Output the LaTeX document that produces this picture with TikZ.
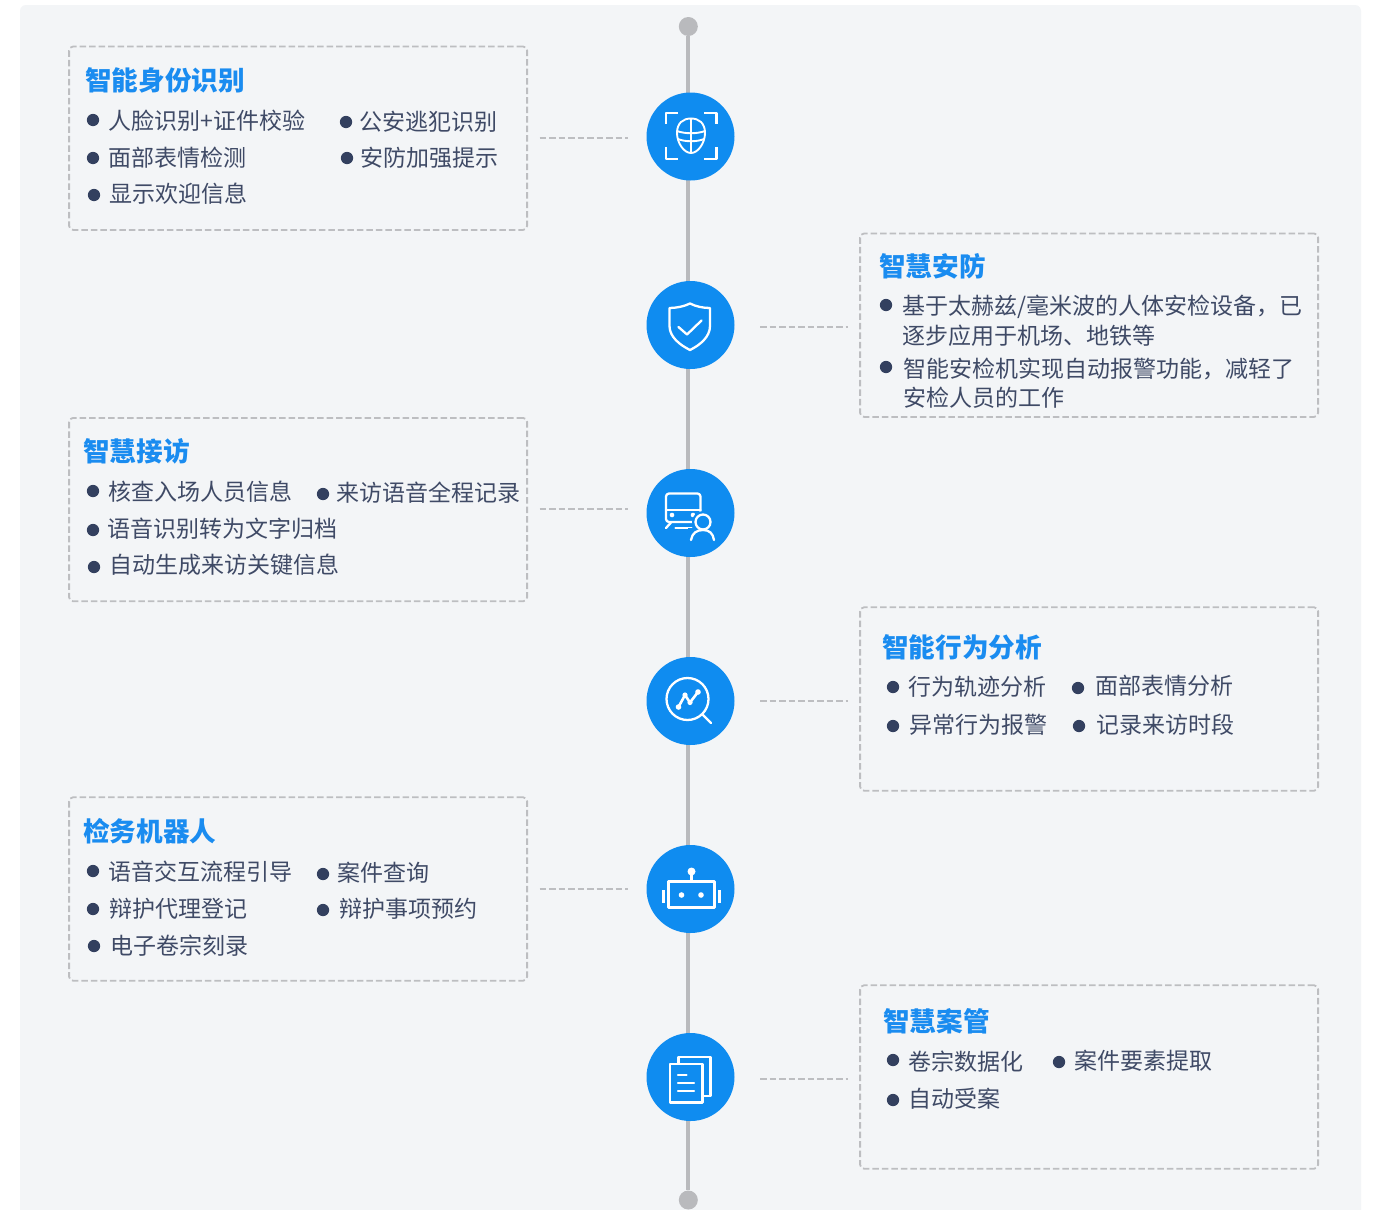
\documentclass[tikz,border=0pt]{standalone}
\usepackage{fontspec}
\setmainfont{Noto Sans CJK SC}
\definecolor{panel}{HTML}{F3F5F7}
\definecolor{blue1}{HTML}{0F8CF0}
\definecolor{titleblue}{HTML}{1A8CF0}
\definecolor{ink}{HTML}{3F4A66}
\definecolor{dotink}{HTML}{33405F}
\definecolor{rail}{HTML}{B9BABD}
\definecolor{dashc}{HTML}{BDBEC1}
\tikzset{
  railline/.style={draw=rail,line width=3.8pt},
  raildot/.style={circle,fill=rail,minimum size=19pt,inner sep=0pt},
  hub/.style={circle,fill=blue1,minimum size=88pt,inner sep=0pt},
  card/.style={draw=dashc,line width=1.8pt,dash pattern=on 6.5pt off 3pt,rounded corners=4pt,
    minimum width=458pt,minimum height=183.4pt,inner sep=0pt,anchor=north west},
  conn/.style={draw=dashc,line width=1.5pt,dash pattern=on 6.5pt off 3pt},
  cardtitle/.style={anchor=west,inner sep=0pt,yshift=-0.5pt,text=titleblue,font=\fontsize{26.6}{30}\selectfont\bfseries},
  itemtext/.style={anchor=west,inner sep=0pt,xshift=0.2pt,yshift=-0.8pt,text=ink,font=\fontsize{23}{28}\selectfont},
  bulletdot/.style={circle,fill=dotink,minimum size=12.3pt,inner sep=0pt},
  glyph/.style={draw=white,line width=2.3pt,line cap=round,line join=round},
  glyphthin/.style={draw=white,line width=1.9pt,line cap=round,line join=round}
}
\newcommand{\bitem}[6]{%
  \node[bulletdot] (#1d) at (#2,#3) {};
  \node[itemtext] (#1) at (#4,#5) {#6};}
\begin{document}
\begin{tikzpicture}[x=1pt,y=-1pt]
\useasboundingbox (0,0) rectangle (1376,1210);
\fill[white] (0,0) rectangle (1376,1210);
\fill[panel,rounded corners=6pt] (20,5) -- (1361,5) -- (1361,1216) -- (20,1216) -- cycle;
\begin{scope}
\clip (0,0) rectangle (1376,1210);
\node[raildot] (top) at (688.3,26.5) {};
\node[raildot] (bot) at (688.3,1200) {};
\draw[railline] (top) -- (bot);
\end{scope}
% hubs
\node[hub] (c1) at (690.5,136.5) {};
\node[hub] (c2) at (690.5,325) {};
\node[hub] (c3) at (690.5,513) {};
\node[hub] (c4) at (690.5,701) {};
\node[hub] (c5) at (690.5,889) {};
\node[hub] (c6) at (690.5,1077) {};
% cards
\node[card] (b1) at (68.2,45.6) {};
\node[card] (b2) at (859.2,232.6) {};
\node[card] (b3) at (68.2,417) {};
\node[card] (b4) at (859.2,606.4) {};
\node[card] (b5) at (68.2,796.4) {};
\node[card] (b6) at (859.2,984.4) {};
% connectors
\coordinate (y1) at (0,138);
\coordinate (y2) at (0,327);
\coordinate (y3) at (0,509);
\coordinate (y4) at (0,701);
\coordinate (y5) at (0,889);
\coordinate (y6) at (0,1079);
\draw[conn,shorten <=11.5pt,shorten >=18.5pt] (b1.east |- y1) -- (c1.west |- y1);
\draw[conn,shorten <=25.5pt,shorten >=11.5pt] (c2.east |- y2) -- (b2.west |- y2);
\draw[conn,shorten <=11.5pt,shorten >=18.5pt] (b3.east |- y3) -- (c3.west |- y3);
\draw[conn,shorten <=25.5pt,shorten >=11.5pt] (c4.east |- y4) -- (b4.west |- y4);
\draw[conn,shorten <=11.5pt,shorten >=18.5pt] (b5.east |- y5) -- (c5.west |- y5);
\draw[conn,shorten <=25.5pt,shorten >=11.5pt] (c6.east |- y6) -- (b6.west |- y6);
% card 1
\node[cardtitle] (t1) at (85,80) {智能身份识别};
\bitem{a1}{93}{120}{108}{120}{人脸识别+证件校验}
\bitem{a2}{346}{122}{359}{121}{公安逃犯识别}
\bitem{a3}{93}{158}{108}{157}{面部表情检测}
\bitem{a4}{347}{158}{360}{157}{安防加强提示}
\bitem{a5}{94}{195}{109}{193}{显示欢迎信息}
% card 2
\node[cardtitle] (t2) at (879,266) {智慧安防};
\bitem{e1}{886}{305}{902}{306}{基于太赫兹/毫米波的人体安检设备，已}
\node[itemtext] (e1b) at (902,335) {逐步应用于机场、地铁等};
\bitem{e2}{886}{367}{903}{368}{智能安检机实现自动报警功能，减轻了}
\node[itemtext] (e2b) at (903,397) {安检人员的工作};
% card 3
\node[cardtitle] (t3) at (83,451) {智慧接访};
\bitem{f1}{93}{491}{108}{491}{核查入场人员信息}
\bitem{f2}{323}{494}{336}{492}{来访语音全程记录}
\bitem{f3}{93}{530}{107}{528}{语音识别转为文字归档}
\bitem{f4}{94}{567}{109}{564}{自动生成来访关键信息}
% card 4
\node[cardtitle] (t4) at (882,647) {智能行为分析};
\bitem{g1}{893}{687}{908}{686}{行为轨迹分析}
\bitem{g2}{1078}{688}{1095}{685}{面部表情分析}
\bitem{g3}{893}{726}{909}{724}{异常行为报警}
\bitem{g4}{1079}{726}{1096}{724}{记录来访时段}
% card 5
\node[cardtitle] (t5) at (83,831) {检务机器人};
\bitem{h1}{93}{871}{108}{871}{语音交互流程引导}
\bitem{h2}{323}{874}{337}{872}{案件查询}
\bitem{h3}{93}{909}{109}{908}{辩护代理登记}
\bitem{h4}{323}{910}{339}{908}{辩护事项预约}
\bitem{h5}{94}{946}{110}{945}{电子卷宗刻录}
% card 6
\node[cardtitle] (t6) at (883,1021) {智慧案管};
\bitem{k1}{893}{1060}{908}{1061}{卷宗数据化}
\bitem{k2}{1059}{1062}{1074}{1060}{案件要素提取}
\bitem{k3}{893}{1100}{908}{1098}{自动受案}
% icon 1: face scan
\draw[glyph,line cap=butt,line width=2.8pt] (666,124) -- (666,113) -- (678,113);
\draw[glyph,line cap=butt,line width=2.8pt] (704,113) -- (716.5,113) -- (716.5,124);
\draw[glyph,line cap=butt,line width=2.8pt] (666,147) -- (666,159) -- (678,159);
\draw[glyph,line cap=butt,line width=2.8pt] (704,159) -- (716.5,159) -- (716.5,147);
\draw[glyphthin] (677,133) .. controls (677,123) and (683,118.5) .. (691,118.5) .. controls (699,118.5) and (705,123) .. (705,133) .. controls (705,143) and (698,153) .. (691,153) .. controls (684,153) and (677,143) .. (677,133) -- cycle;
\draw[glyphthin] (691,118.5) -- (691,153);
\draw[glyphthin] (677,131) .. controls (685,134) and (697,134) .. (705,131);
\draw[glyphthin] (678,139) .. controls (685,142) and (697,142) .. (704,139);
% icon 2: shield
\draw[glyph] (690,303.5) .. controls (684,306.5) and (676,308) .. (669.5,308) -- (669.5,326) .. controls (669.5,337) and (680,345) .. (690,350) .. controls (700,345) and (710,337) .. (710,326) -- (710,308) .. controls (703,308) and (696,306.5) .. (690,303.5) -- cycle;
\draw[glyph] (678.5,327) -- (687,334.5) -- (701.5,320.5);
% icon 3: train and person
\draw[glyph,rounded corners=3pt] (666,493.5) rectangle (700.5,522);
\draw[glyph] (666,510) -- (700.5,510);
\fill[white] (672,515) circle (2.3pt) (693,515) circle (2.3pt);
\draw[glyph] (671.5,522) -- (666,528);
\draw[glyph] (675.5,528) -- (691.5,528);
\fill[blue1] (703,522) circle (11pt);
\fill[blue1] (688,528) rectangle (716,544);
\draw[glyph] (703,522) circle (7.5pt);
\draw[glyph] (691,540) .. controls (692,533) and (697,530) .. (703,530) .. controls (709,530) and (713,533) .. (714,540);
% icon 4: magnifier chart
\draw[glyph] (687.5,699) circle (21pt);
\draw[glyph] (702.5,714.5) -- (711,723);
\draw[glyph,line width=2.6pt] (678.5,707) -- (685,695) -- (690,702.5) -- (698,692);
\fill[white] (678.5,707) circle (2.8pt) (685,695) circle (2.6pt) (690,702.5) circle (2.6pt) (698,692) circle (2.8pt);
% icon 5: robot
\draw[glyph,line cap=butt] (668.5,881.5) rectangle (714.5,907.5);
\draw[glyph,line cap=butt] (691.5,881.5) -- (691.5,872);
\fill[white] (691.5,871.5) circle (4pt);
\fill[white] (681.5,895) circle (2.8pt) (701,895) circle (2.8pt);
\draw[glyph,line width=3pt,line cap=butt] (663.5,890) -- (663.5,902.5);
\draw[glyph,line width=3pt,line cap=butt] (719.5,890) -- (719.5,902.5);
% icon 6: documents
\draw[glyph,line cap=butt] (678.5,1064) -- (678.5,1057) -- (710.5,1057) -- (710.5,1096) -- (702.5,1096);
\draw[glyph,line cap=butt] (670,1064) rectangle (702.5,1102.5);
\draw[glyph] (678,1075) -- (686.5,1075);
\draw[glyph] (678,1083) -- (694,1083);
\draw[glyph] (678,1091) -- (694,1091);
\end{tikzpicture}
\end{document}
